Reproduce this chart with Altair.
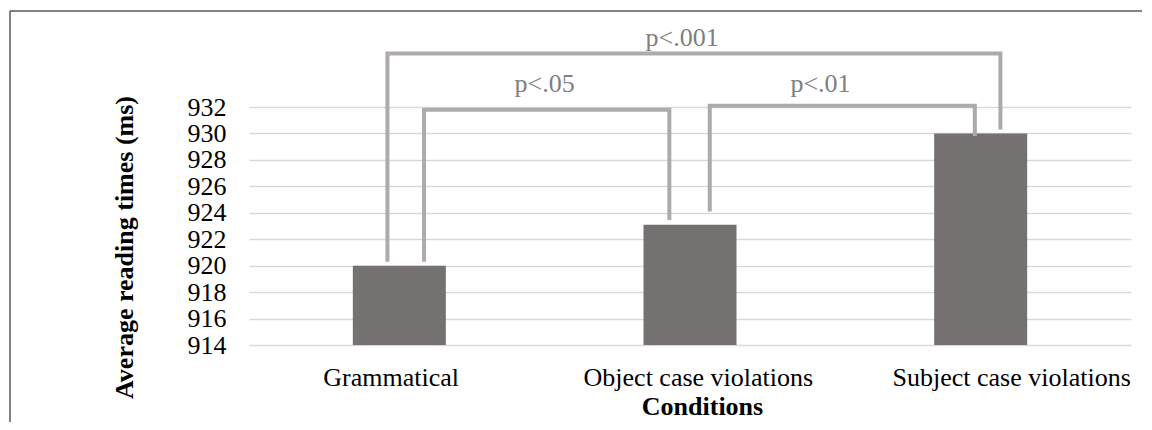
import json
import altair as alt
import pandas as pd

# ---- data ----
categories = ["Grammatical", "Object case violations", "Subject case violations"]
means = [920.0, 923.1, 930.0]
y_ticks = [914, 916, 918, 920, 922, 924, 926, 928, 930, 932]

bracket_labels = ["p<.001", "p<.05", "p<.01"]
bracket_left = [-0.041, 0.085, 1.068]      # category-index units
bracket_right = [2.068, 0.929, 1.98]
bracket_top = [936.05, 931.8, 932.1]
bracket_left_end = [920.3, 920.3, 924.1]
bracket_right_end = [930.3, 923.45, 929.8]
label_x = [0.973, 0.5, 1.449]
label_y = [936.6, 933.1, 933.1]
# where each category name sits along the axis (category-index units)
cat_label_pos = [-0.03, 1.027, 2.105]

FONT = "Liberation Serif"

bars_df = pd.DataFrame({"idx": list(range(len(categories))), "cat": categories, "mean": means})

rows = []
for i, lab in enumerate(bracket_labels):
    pts = [
        (bracket_left[i], bracket_left_end[i]),
        (bracket_left[i], bracket_top[i]),
        (bracket_right[i], bracket_top[i]),
        (bracket_right[i], bracket_right_end[i]),
    ]
    for k, (xv, yv) in enumerate(pts):
        rows.append({"bracket": lab, "order": k, "x": xv, "y": yv})
brackets_df = pd.DataFrame(rows)
labels_df = pd.DataFrame({"label": bracket_labels, "x": label_x, "y": label_y})

xscale = alt.Scale(domain=[-0.5, 2.5], nice=False, zero=False)
yscale = alt.Scale(domain=[914, 932], nice=False, zero=False)

label_expr = json.dumps(categories) + "[round(datum.value)]"

x_axis = alt.Axis(
    values=cat_label_pos,
    labelExpr=label_expr,
    domain=False, ticks=False, grid=False,
    labelFont=FONT, labelFontSize=26, labelColor="#000000",
    labelPadding=19, labelFlush=False, labelOverlap=False, labelLimit=0,
    title="Conditions", titleFont=FONT, titleFontSize=26, titleFontWeight="bold",
    titleColor="#000000", titleX=453, titleY=69, titleBaseline="alphabetic",
)
y_axis = alt.Axis(
    values=y_ticks,
    domain=False, ticks=False, grid=True,
    gridColor="#D9D9D9", gridWidth=1.5,
    labelFont=FONT, labelFontSize=26, labelColor="#000000", labelPadding=23,
    title="Average reading times (ms)", titleFont=FONT, titleFontSize=26,
    titleFontWeight="bold", titleColor="#000000",
    titleX=-117, titleY=140, titleAngle=270, titleBaseline="alphabetic",
)

bars = alt.Chart(bars_df).mark_bar(size=93, color="#767171").encode(
    x=alt.X("idx:Q", scale=xscale, axis=x_axis),
    y=alt.Y("mean:Q", scale=yscale, axis=y_axis),
    y2=alt.datum(914),
)

brackets = alt.Chart(brackets_df).mark_line(
    color="#AEAAAA", strokeWidth=4, strokeJoin="miter", strokeCap="butt"
).encode(
    x=alt.X("x:Q", scale=xscale, axis=x_axis),
    y=alt.Y("y:Q", scale=yscale, axis=y_axis),
    detail="bracket:N",
    order="order:Q",
)

ptext = alt.Chart(labels_df).mark_text(
    font=FONT, fontSize=26, color="#7F7F7F", baseline="alphabetic", align="center"
).encode(
    x=alt.X("x:Q", scale=xscale, axis=x_axis),
    y=alt.Y("y:Q", scale=yscale, axis=y_axis),
    text="label:N",
)

frame_df = pd.DataFrame({"a": [0]})
frame_top = alt.Chart(frame_df).mark_rule(color="#595959", strokeWidth=1.5).encode(
    x=alt.value(-239), x2=alt.value(900), y=alt.value(-96)
)
frame_left = alt.Chart(frame_df).mark_rule(color="#595959", strokeWidth=1.5).encode(
    x=alt.value(-239), y=alt.value(-96), y2=alt.value(330)
)

chart = alt.layer(bars, brackets, ptext, frame_top, frame_left).properties(
    width=882, height=238,
    padding={"left": 241, "top": 99, "right": 11, "bottom": 77},
    autosize=alt.AutoSizeParams(type="none"),
).configure(font=FONT).configure_view(stroke=None)

chart.save("out.html", embed_options={"renderer": "svg", "actions": False})
